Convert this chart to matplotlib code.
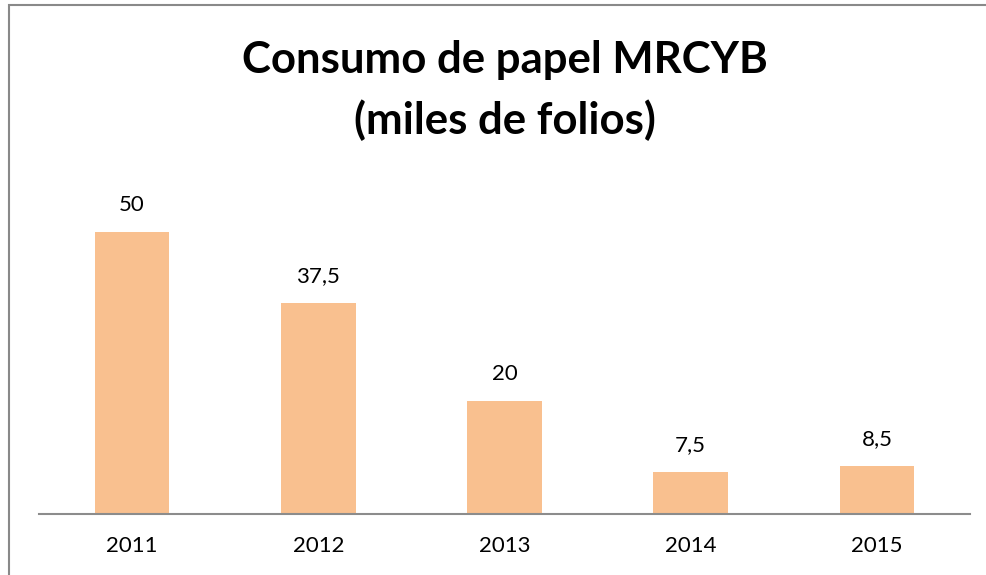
import matplotlib.pyplot as plt
from matplotlib.patches import Rectangle

years = ['2011', '2012', '2013', '2014', '2015']
valores = [50, 37.5, 20, 7.5, 8.5]
etiquetas = ['50', '37,5', '20', '7,5', '8,5']

plt.rcParams['font.family'] = ['Lato', 'DejaVu Sans']

fig = plt.figure(figsize=(9.87, 5.75), dpi=100)
fig.patch.set_facecolor('white')

# marco del gráfico (solo se ven los bordes izquierdo y superior)
fig.patches.append(Rectangle((9 / 987, -0.05), 1.1, 1 - 5 / 575 + 0.05,
                             transform=fig.transFigure, fill=False,
                             edgecolor='#898989', linewidth=1.5))

ax = fig.add_axes([39 / 987, 1 - 514 / 575, 931 / 987, (514 - 176) / 575])
x = range(len(years))
ax.bar(x, valores, width=0.4, color='#F9C08F')
for xi, v, lab in zip(x, valores, etiquetas):
    ax.annotate(lab, (xi, v), xytext=(0, 19.5), textcoords='offset points',
                ha='center', va='center', fontsize=16, color='black')

ax.set_xlim(-0.5, 4.5)
ax.set_ylim(0, 60)
ax.set_xticks(list(x))
ax.set_xticklabels(years, fontsize=16)
ax.tick_params(axis='x', length=0, pad=16)
ax.set_yticks([])
for s in ['top', 'right', 'left']:
    ax.spines[s].set_visible(False)
ax.spines['bottom'].set_color('#8c8c8c')
ax.spines['bottom'].set_linewidth(1.5)

fig.text(505 / 987, 1 - 60 / 575, 'Consumo de papel MRCYB',
         ha='center', va='center', fontsize=31.5, fontweight='bold')
fig.text(505 / 987, 1 - 120 / 575, '(miles de folios)',
         ha='center', va='center', fontsize=31.5, fontweight='bold')

fig.savefig('out.png', dpi=100, facecolor='white')
